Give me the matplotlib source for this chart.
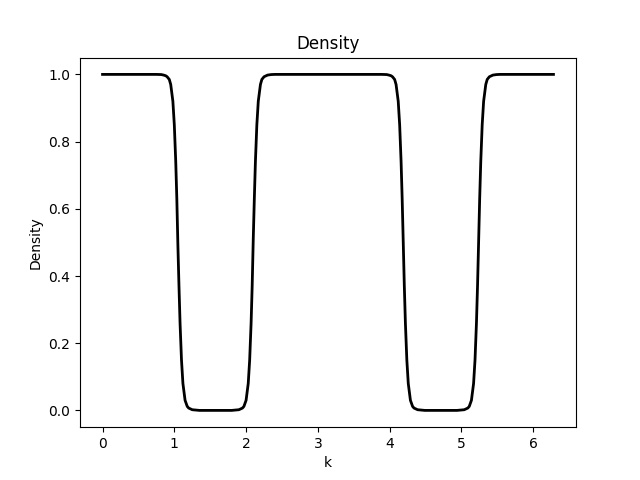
import matplotlib
matplotlib.use("Agg")
import matplotlib.pyplot as plt

k = [0.0, 0.5, 0.75, 0.82, 0.85, 0.88, 0.90, 0.93, 0.95, 0.98, 1.00, 1.02, 1.035, 1.05, 1.065,
     1.08, 1.10, 1.12, 1.15, 1.18, 1.20, 1.25, 1.30, 1.35, 1.8, 1.85, 1.9, 1.95, 1.97, 2.0, 2.03,
     2.05, 2.07, 2.085, 2.10, 2.115, 2.13, 2.15, 2.17, 2.20, 2.22, 2.25, 2.28, 2.30, 2.35, 2.4,
     3.75, 3.89, 3.96, 3.99, 4.02, 4.04, 4.07, 4.09, 4.12, 4.14, 4.16, 4.175, 4.19, 4.205,
     4.22, 4.24, 4.26, 4.29, 4.32, 4.34, 4.39, 4.44, 4.49, 4.94, 4.99, 5.04, 5.09, 5.11, 5.14,
     5.17, 5.19, 5.21, 5.225, 5.24, 5.255, 5.27, 5.29, 5.31, 5.34, 5.36, 5.39, 5.42, 5.44, 5.49,
     5.54, 6.283]
density = [1.0, 1.0, 1.0, 0.9995, 0.998, 0.996, 0.993, 0.985, 0.97, 0.92, 0.85, 0.74, 0.63, 0.49, 0.37,
           0.26, 0.15, 0.08, 0.03, 0.012, 0.007, 0.002, 0.001, 0.0, 0.0, 0.001, 0.002, 0.007, 0.012, 0.03, 0.08,
           0.15, 0.26, 0.37, 0.51, 0.63, 0.74, 0.85, 0.92, 0.97, 0.985, 0.993, 0.996, 0.998, 0.9995, 1.0,
           1.0, 1.0, 0.9995, 0.998, 0.996, 0.993, 0.985, 0.97, 0.92, 0.85, 0.74, 0.63, 0.50, 0.37,
           0.26, 0.15, 0.08, 0.03, 0.012, 0.007, 0.002, 0.001, 0.0, 0.0, 0.001, 0.002, 0.007, 0.012, 0.03,
           0.08, 0.15, 0.26, 0.37, 0.50, 0.63, 0.74, 0.85, 0.92, 0.97, 0.985, 0.993, 0.996, 0.998, 0.9995,
           1.0, 1.0]

fig, ax = plt.subplots(figsize=(6.4, 4.8), dpi=100)
ax.plot(k, density, color="black", linewidth=2)
ax.set_title("Density")
ax.set_xlabel("k")
ax.set_ylabel("Density")
fig.savefig("out.png")
